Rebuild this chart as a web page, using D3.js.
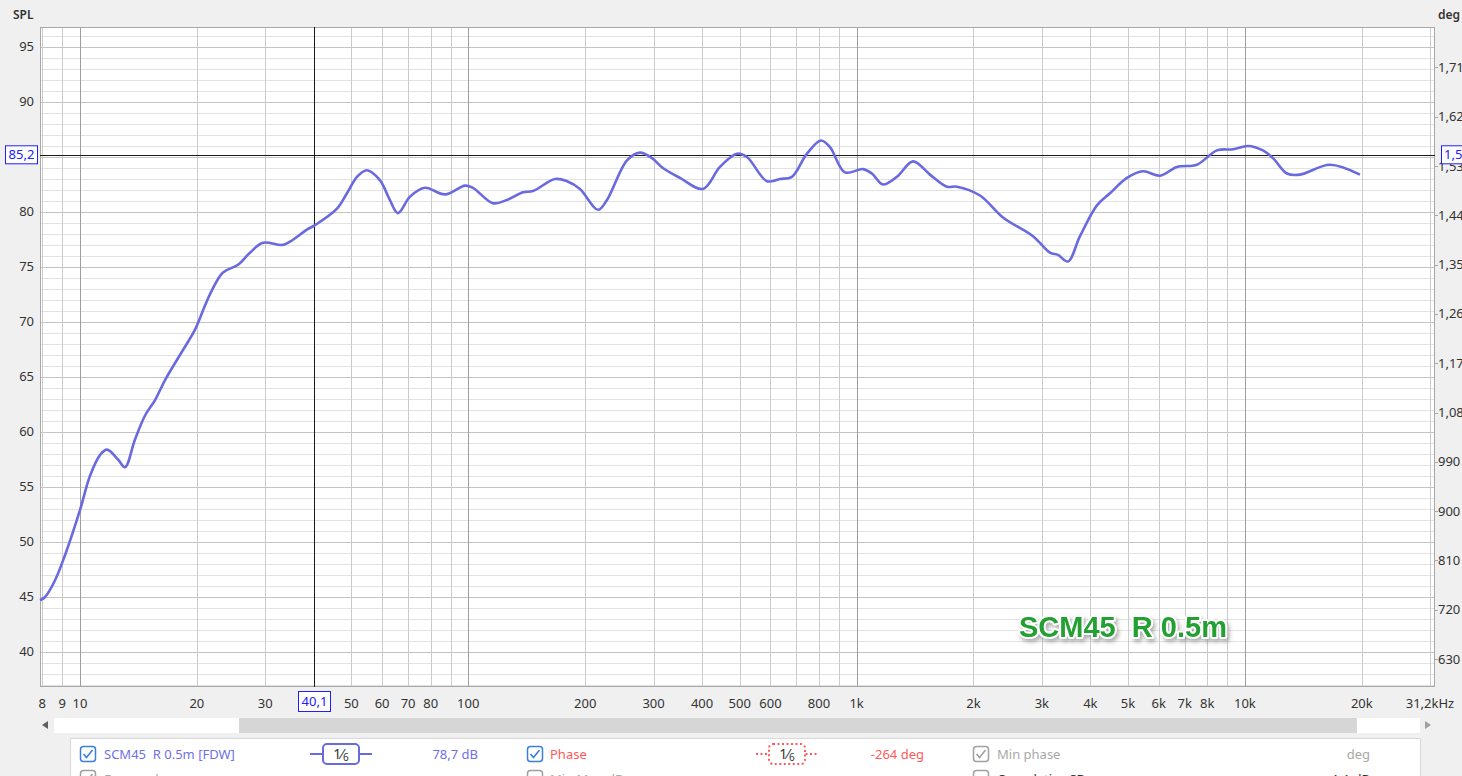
<!DOCTYPE html>
<html><head><meta charset="utf-8">
<script src="https://cdn.jsdelivr.net/npm/d3@7"></script>
<style>
html,body{margin:0;padding:0;background:#f0f0f0;overflow:hidden;}
svg{display:block;font-family:"Noto Sans","Open Sans",sans-serif;}
</style></head><body>
<script>
// ---- data ----
const freqHz = [7.89, 8.13, 8.62, 9.15, 10, 10.61, 11.26, 11.74, 12.53, 13.06, 13.85, 14.71, 15.61, 16.55, 18.09, 19.78, 20.99, 21.88, 23.35, 25.52, 27.4, 29.6, 33.13, 34.74, 38.42, 40.29, 45.9, 48.7, 51.7, 54.8, 59.2, 62.8, 65.9, 70.8, 77.3, 87.1, 98.1, 102.8, 115.8, 125.8, 138.3, 146.7, 167.2, 179.6, 193.9, 215.8, 227.6, 256.3, 276.8, 297.2, 317.1, 350.9, 402.1, 444.7, 491.9, 521.9, 587.6, 634.6, 681.5, 745, 809.5, 854, 933.3, 1038.5, 1095.4, 1169.3, 1270.6, 1397.4, 1545.2, 1708.7, 1813.3, 2078.4, 2382, 2846, 3148, 3301, 3502, 3761, 4159, 4493, 4969, 5465, 6043, 6683, 7523, 8472, 9317, 10181, 11127, 11810, 12831, 13860, 16557, 19784];
const splDb = [44.7, 45.0, 46.5, 48.8, 52.9, 56.0, 57.9, 58.4, 57.5, 56.8, 59.3, 61.5, 62.9, 64.7, 67.0, 69.3, 71.5, 72.9, 74.5, 75.2, 76.3, 77.2, 77.0, 77.3, 78.4, 78.8, 80.3, 81.7, 83.2, 83.8, 82.9, 81.1, 79.9, 81.4, 82.2, 81.6, 82.4, 82.2, 80.8, 81.1, 81.8, 81.9, 83.0, 82.8, 82.1, 80.2, 81.1, 84.7, 85.4, 84.9, 84.0, 83.1, 82.1, 84.1, 85.3, 85.0, 82.8, 83.0, 83.2, 85.3, 86.5, 85.9, 83.6, 83.9, 83.5, 82.5, 83.2, 84.6, 83.4, 82.3, 82.3, 81.5, 79.5, 77.8, 76.3, 76.1, 75.5, 77.8, 80.6, 81.7, 83.1, 83.7, 83.3, 84.1, 84.3, 85.6, 85.7, 86.0, 85.6, 84.9, 83.5, 83.4, 84.3, 83.4];
const xTickValues = [8, 9, 10, 20, 30, 50, 60, 70, 80, 100, 200, 300, 400, 500, 600, 800, 1000, 2000, 3000, 4000, 5000, 6000, 7000, 8000, 10000, 20000];
const xTickLabels = ["8", "9", "10", "20", "30", "50", "60", "70", "80", "100", "200", "300", "400", "500", "600", "800", "1k", "2k", "3k", "4k", "5k", "6k", "7k", "8k", "10k", "20k"];
const yTicks = [40, 45, 50, 55, 60, 65, 70, 75, 80, 90, 95];
const phaseTicks = [630, 720, 810, 900, 990, 1080, 1170, 1260, 1350, 1440, 1530, 1620, 1710];
const phaseLabels = ["630", "720", "810", "900", "990", "1,080", "1,170", "1,260", "1,350", "1,440", "1,530", "1,620", "1,710"];
const cursorFreq = 40.1, cursorDb = 85.2;
const seriesName = "SCM45  R 0.5m [FDW]";
const annotation = "SCM45  R 0.5m";

// ---- layout ----
const W = 1462, H = 776;
const L = 40, R = 1435, T = 27, B = 687;
const svg = d3.select("body").append("svg").attr("width", W).attr("height", H);

const x = d3.scaleLog().domain([7.89, 30870]).range([L, R]);
const y = d3.scaleLinear().domain([36.818, 96.818]).range([B, T]);
const yp = d3.scaleLinear().domain([579, 1783.9]).range([B, T]);

svg.append("rect").attr("x", L).attr("y", T).attr("width", R - L).attr("height", B - T).attr("fill", "#fff");

const g = svg.append("g");
for (let v = 37; v <= 96; v++) {
  g.append("line").attr("x1", L).attr("x2", R).attr("y1", Math.round(y(v)) + 0.5).attr("y2", Math.round(y(v)) + 0.5)
    .attr("stroke", v % 5 === 0 ? "#c4c4c4" : "#e2e2e2").attr("stroke-width", 1);
}
const vlines = [];
[1, 10, 100, 1000, 10000].forEach(d => { for (let m = 1; m <= 9; m++) { const f = d * m; if (f >= 8 && f <= 30000) vlines.push(f); } });
vlines.forEach(f => {
  const dec = Math.abs(Math.log10(f) - Math.round(Math.log10(f))) < 1e-9;
  g.append("line").attr("y1", T).attr("y2", B).attr("x1", Math.round(x(f)) + 0.5).attr("x2", Math.round(x(f)) + 0.5)
    .attr("stroke", dec ? "#9e9e9e" : "#cbcbcb").attr("stroke-width", 1);
});
svg.append("rect").attr("x", L + 0.5).attr("y", T + 0.5).attr("width", R - L - 1).attr("height", B - T - 1)
  .attr("fill", "none").attr("stroke", "#a8a8a8");

svg.append("line").attr("x1", L).attr("x2", R).attr("y1", Math.round(y(cursorDb)) + 0.5).attr("y2", Math.round(y(cursorDb)) + 0.5).attr("stroke", "#1a1a1a");
svg.append("line").attr("y1", T).attr("y2", B).attr("x1", Math.round(x(cursorFreq)) + 0.5).attr("x2", Math.round(x(cursorFreq)) + 0.5).attr("stroke", "#1a1a1a");

const pts = freqHz.map((f, i) => [f, splDb[i]]);
svg.append("path").datum(pts)
  .attr("d", d3.line().x(d => x(d[0])).y(d => y(d[1])).curve(d3.curveCatmullRom.alpha(0.5)))
  .attr("fill", "none").attr("stroke", "#6a6ae0").attr("stroke-width", 2.6).attr("stroke-linejoin", "round");

svg.append("text").attr("x", 13).attr("y", 19).text("SPL").attr("font-size", 12).attr("font-weight", 600).attr("fill", "#333");
yTicks.forEach(v => {
  svg.append("text").attr("x", 34).attr("y", y(v) + 4.5).attr("text-anchor", "end").attr("font-size", 13).attr("fill", "#333").text(v);
});
svg.append("text").attr("x", 1438).attr("y", 19).text("deg").attr("font-size", 12).attr("font-weight", 600).attr("fill", "#333");
phaseTicks.forEach((v, i) => {
  const yy = Math.round(yp(v)) + 0.5;
  svg.append("line").attr("x1", R).attr("x2", R + 3).attr("y1", yy).attr("y2", yy).attr("stroke", "#a8a8a8");
  svg.append("text").attr("x", 1438).attr("y", yp(v) + 4.5).attr("font-size", 13).attr("fill", "#333").text(phaseLabels[i]);
});
xTickValues.forEach((v, i) => {
  svg.append("text").attr("x", x(v)).attr("y", 708).attr("text-anchor", "middle").attr("font-size", 13).attr("fill", "#333").text(xTickLabels[i]);
});
svg.append("text").attr("x", 1430).attr("y", 708).attr("text-anchor", "middle").attr("font-size", 13).attr("fill", "#333").text("31,2kHz");

function cursorBox(cx, cy, w, h, label, anchor) {
  svg.append("rect").attr("x", cx + 0.5).attr("y", cy + 0.5).attr("width", w).attr("height", h).attr("fill", "#fff").attr("stroke", "#2020ff");
  svg.append("text").attr("x", anchor === "start" ? cx + 3 : cx + w / 2 + 0.5).attr("y", cy + h / 2 + 5)
    .attr("text-anchor", anchor || "middle").attr("font-size", 13).attr("fill", "#2020ff").text(label);
}
cursorBox(5, y(cursorDb) - 9.5, 32, 18, "85,2");
cursorBox(Math.round(x(cursorFreq)) - 16, 691, 32, 20, "40,1");
cursorBox(1441, y(cursorDb) - 9.5, 30, 18, "1,550", "start");

const defs = svg.append("defs");
const flt = defs.append("filter").attr("id", "sh").attr("x", "-10%").attr("y", "-30%").attr("width", "120%").attr("height", "170%");
flt.append("feDropShadow").attr("dx", 2).attr("dy", 3).attr("stdDeviation", 2).attr("flood-color", "#777").attr("flood-opacity", 0.6);
svg.append("text").attr("x", 1019).attr("y", 637).attr("font-family", "'Liberation Sans',Arial,sans-serif").attr("font-weight", "bold")
  .attr("font-size", 29).attr("fill", "#23a030").attr("stroke", "#fff").attr("stroke-width", 4).attr("paint-order", "stroke")
  .attr("stroke-linejoin", "round").attr("filter", "url(#sh)").style("white-space", "pre").text(annotation);

svg.append("path").attr("d", "M48,721 L42,725 L48,729 Z").attr("fill", "#606060");
svg.append("rect").attr("x", 54).attr("y", 718).attr("width", 1366).attr("height", 15).attr("fill", "#fff");
svg.append("rect").attr("x", 239).attr("y", 718).attr("width", 1118).attr("height", 15).attr("fill", "#d6d6d6");
svg.append("path").attr("d", "M1425,721 L1431,725 L1425,729 Z").attr("fill", "#a0a0a0");

svg.append("rect").attr("x", 70.5).attr("y", 738.5).attr("width", 1350).attr("height", 60).attr("fill", "#fff").attr("stroke", "#d8d8d8");
function checkbox(cx, cy, col, on) {
  svg.append("rect").attr("x", cx + 0.5).attr("y", cy + 0.5).attr("width", 15).attr("height", 15).attr("rx", 3)
    .attr("fill", "#fff").attr("stroke", col).attr("stroke-width", 1.5);
  if (on) svg.append("path").attr("d", `M${cx + 3.5},${cy + 8} L${cx + 6.5},${cy + 11.5} L${cx + 12.5},${cy + 4}`)
    .attr("fill", "none").attr("stroke", col).attr("stroke-width", 1.6);
}
function frac(cx, cy, col, dotted) {
  svg.append("line").attr("x1", cx - 31).attr("x2", cx + 31).attr("y1", cy).attr("y2", cy).attr("stroke", col).attr("stroke-width", 2)
    .attr("stroke-dasharray", dotted ? "2,2.5" : null);
  svg.append("rect").attr("x", cx - 18).attr("y", cy - 10).attr("width", 36).attr("height", 20).attr("rx", 4)
    .attr("fill", "#fff").attr("stroke", col).attr("stroke-width", 2).attr("stroke-dasharray", dotted ? "2,2.5" : null);
  const t = svg.append("text").attr("x", cx).attr("y", cy + 5).attr("text-anchor", "middle").attr("font-size", 14).attr("fill", "#333");
  t.append("tspan").text("1⁄");
  t.append("tspan").attr("font-size", 10).attr("dy", 2).text("6");
}
const rowY = 759;
checkbox(80, 746, "#3a7ee0", true);
svg.append("text").attr("x", 104).attr("y", rowY).attr("font-size", 13).attr("fill", "#7070e6").style("white-space", "pre").text(seriesName);
frac(341, 754, "#6a6ae0", false);
svg.append("text").attr("x", 478).attr("y", rowY).attr("text-anchor", "end").attr("font-size", 13).attr("fill", "#7070e6").text("78,7 dB");
checkbox(527, 746, "#3a7ee0", true);
svg.append("text").attr("x", 550).attr("y", rowY).attr("font-size", 13).attr("fill", "#ff5a5a").text("Phase");
frac(787, 754, "#ff5a5a", true);
svg.append("text").attr("x", 924).attr("y", rowY).attr("text-anchor", "end").attr("font-size", 13).attr("fill", "#ff5a5a").text("-264 deg");
checkbox(973, 746, "#a0a0a0", true);
svg.append("text").attr("x", 997).attr("y", rowY).attr("font-size", 13).attr("fill", "#a8a8a8").text("Min phase");
svg.append("text").attr("x", 1370).attr("y", rowY).attr("text-anchor", "end").attr("font-size", 13).attr("fill", "#a8a8a8").text("deg");
checkbox(80, 770, "#a0a0a0", true);
svg.append("text").attr("x", 104).attr("y", 784).attr("font-size", 13).attr("fill", "#a8a8a8").text("Excess phase");
checkbox(527, 770, "#a0a0a0", false);
svg.append("text").attr("x", 550).attr("y", 784).attr("font-size", 13).attr("fill", "#a8a8a8").text("Min Mag dB");
checkbox(973, 770, "#a0a0a0", false);
svg.append("text").attr("x", 997).attr("y", 784).attr("font-size", 13).attr("fill", "#333").text("Cumulative SD");
svg.append("text").attr("x", 1370).attr("y", 784).attr("text-anchor", "end").attr("font-size", 13).attr("fill", "#333").text("1,1 dB");
</script>
</body></html>
